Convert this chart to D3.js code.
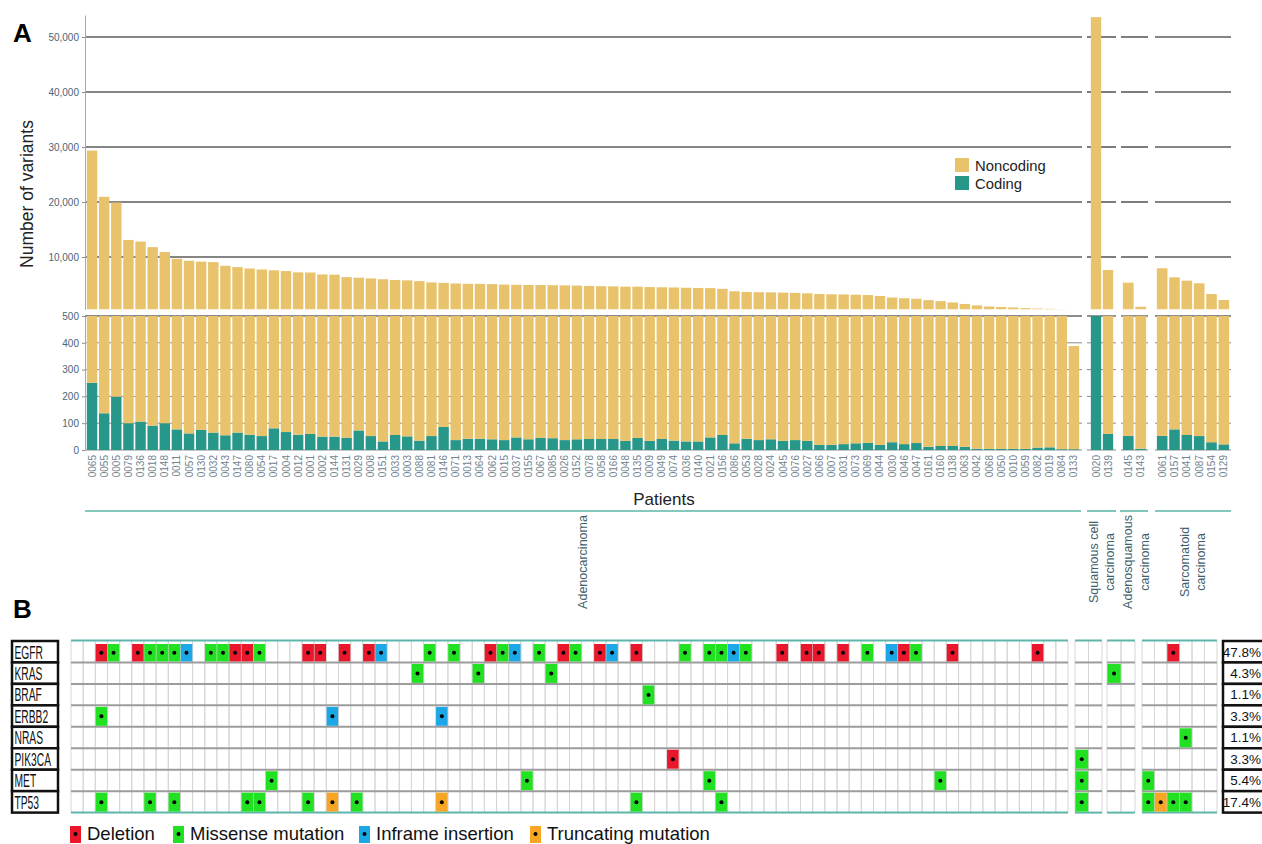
<!DOCTYPE html>
<html>
<head>
<meta charset="utf-8">
<script src="https://cdn.jsdelivr.net/npm/d3@7"></script>
<style>
  body { margin: 0; background: #fff; }
  svg { display: block; font-family: "Liberation Sans", Arial, sans-serif; }
</style>
</head>
<body>
<svg id="chart" width="1262" height="844"></svg>
<script>
// ---------- data: variant counts per patient ----------
const adenoPatients = ["0065","0055","0005","0079","0136","0018","0148","0011","0057","0130","0032","0043","0147","0080","0054","0017","0004","0012","0001","0002","0144","0131","0029","0008","0151","0033","0003","0088","0081","0146","0071","0013","0064","0062","0015","0037","0155","0067","0085","0026","0152","0078","0058","0166","0048","0135","0009","0049","0074","0036","0140","0021","0156","0086","0053","0028","0024","0045","0076","0027","0066","0007","0031","0073","0069","0044","0030","0046","0047","0161","0160","0138","0063","0042","0068","0050","0010","0059","0082","0019","0084","0133"];
const adenoNoncoding = [29100,20800,19700,13000,12700,11700,10800,9600,9250,9080,9000,8350,8100,7850,7680,7500,7380,7150,7120,6780,6740,6300,6170,6050,5930,5760,5700,5580,5330,5210,5150,5090,5080,5030,4950,4900,4880,4860,4830,4800,4760,4700,4650,4620,4580,4560,4500,4460,4420,4380,4340,4300,4150,3750,3600,3560,3530,3500,3440,3360,3250,3200,3170,3120,3050,2900,2600,2480,2380,2150,1950,1720,1450,1200,1000,900,820,700,620,560,520,385];
const adenoCoding = [251,137,199,100,106,91,100,77,62,75,65,55,65,57,52,81,67,57,60,50,50,46,73,52,32,56,51,35,52,86,37,42,42,40,37,47,40,45,44,37,40,41,41,41,34,45,34,41,35,32,32,47,56,25,42,37,40,34,37,34,19,19,22,25,27,19,29,22,26,12,15,15,12,5,4,4,4,4,9,10,3,3];

const squamousPatients = ["0020","0139"];
const squamousNoncoding = [53100,7580];
const squamousCoding = [510,60];

const adenosquamousPatients = ["0145","0143"];
const adenosquamousNoncoding = [5280,955];
const adenosquamousCoding = [53,5];

const sarcomatoidPatients = ["0061","0157","0041","0087","0154","0129"];
const sarcomatoidNoncoding = [7890,6220,5640,5170,3240,2160];
const sarcomatoidCoding = [53,77,56,52,29,21];

const upperTicks = [10000,20000,30000,40000,50000];
const lowerTicks = [0,100,200,300,400,500];

// ---------- data: driver mutations per gene ----------
const geneNames = ["EGFR","KRAS","BRAF","ERBB2","NRAS","PIK3CA","MET","TP53"];
const genePercents = ["47.8%","4.3%","1.1%","3.3%","1.1%","3.3%","5.4%","17.4%"];
const mutationCodes = ["D","M","I","T"];
const mutationLabels = ["Deletion","Missense mutation","Inframe insertion","Truncating mutation"];

const egfrCalls = [["0005","D"],["0079","M"],["0018","D"],["0148","M"],["0011","M"],["0057","M"],["0130","I"],["0043","M"],["0147","M"],["0080","D"],["0054","D"],["0017","M"],["0002","D"],["0144","D"],["0029","D"],["0151","D"],["0033","I"],["0146","M"],["0013","M"],["0015","D"],["0037","M"],["0155","I"],["0085","M"],["0152","D"],["0078","M"],["0166","D"],["0048","I"],["0009","D"],["0140","M"],["0156","M"],["0086","M"],["0053","I"],["0028","M"],["0076","D"],["0066","D"],["0007","D"],["0073","D"],["0044","M"],["0046","I"],["0047","D"],["0161","M"],["0063","D"],["0019","D"],["0041","D"]];
const krasCalls = [["0081","M"],["0062","M"],["0026","M"],["0145","M"]];
const brafCalls = [["0049","M"]];
const erbb2Calls = [["0005","M"],["0131","I"],["0071","I"]];
const nrasCalls = [["0087","M"]];
const pik3caCalls = [["0036","D"],["0020","M"]];
const metCalls = [["0004","M"],["0067","M"],["0156","M"],["0138","M"],["0020","M"],["0061","M"]];
const tp53Calls = [["0005","M"],["0148","M"],["0057","M"],["0054","M"],["0017","M"],["0002","M"],["0131","T"],["0008","M"],["0071","T"],["0009","M"],["0086","M"],["0020","M"],["0061","M"],["0157","T"],["0041","M"],["0087","M"]];

// ---------- styling ----------
const NONCODING = "#E8C36B";
const CODING = "#27978A";
const TEAL_LINE = "#5DB6A9";
const mutationColors = { D: "#E8172B", M: "#22E022", I: "#1CA8E6", T: "#F6A624" };

const svg = d3.select("#chart");

// Histology groups with their horizontal spans (bars, grid, oncoprint block, label columns)
const groups = [
  { patients: adenoPatients, noncoding: adenoNoncoding, coding: adenoCoding,
    bars: [86, 1080], grid: [85, 1082], line: [85, 1081], onco: [71, 1068],
    label: ["Adenocarcinoma"], labelX: [583] },
  { patients: squamousPatients, noncoding: squamousNoncoding, coding: squamousCoding,
    bars: [1090, 1114], grid: [1087, 1116], line: [1087, 1116], onco: [1075, 1102],
    label: ["Squamous cell", "carcinoma"], labelX: [1094, 1110] },
  { patients: adenosquamousPatients, noncoding: adenosquamousNoncoding, coding: adenosquamousCoding,
    bars: [1122, 1147], grid: [1121, 1148], line: [1120, 1148], onco: [1107, 1135],
    label: ["Adenosquamous", "carcinoma"], labelX: [1128, 1145] },
  { patients: sarcomatoidPatients, noncoding: sarcomatoidNoncoding, coding: sarcomatoidCoding,
    bars: [1156, 1230], grid: [1155, 1231], line: [1155, 1231], onco: [1142, 1217],
    label: ["Sarcomatoid", "carcinoma"], labelX: [1185, 1201] }
];

// ---------- panel A: broken-axis stacked bars ----------
const yUp = d3.scaleLinear().domain([500, 54000]).range([309.25, 15]);
const yLo = d3.scaleLinear().domain([0, 500]).range([450, 316]);

const gridG = svg.append("g");
const barG = svg.append("g");

groups.forEach(g => {
  // gridlines behind bars
  upperTicks.forEach(t => {
    gridG.append("line").attr("x1", g.grid[0]).attr("x2", g.grid[1])
      .attr("y1", yUp(t)).attr("y2", yUp(t))
      .attr("stroke", "#5c5c5c").attr("stroke-width", 1.6);
  });
  lowerTicks.forEach(t => {
    gridG.append("line").attr("x1", g.grid[0]).attr("x2", g.grid[1])
      .attr("y1", yLo(t)).attr("y2", yLo(t))
      .attr("stroke", t === 500 ? "#666" : "#8c8c8c").attr("stroke-width", t === 500 ? 1.4 : 1);
  });

  const x = d3.scaleBand().domain(g.patients).range(g.bars).paddingInner(0.14).paddingOuter(0.07);
  g.x = x;

  g.patients.forEach((p, i) => {
    const c = g.coding[i], n = g.noncoding[i];
    const segs = [[0, c, CODING], [c, c + n, NONCODING]];
    segs.forEach(([a, b, col]) => {
      // lower axis segment 0..500
      const lo = Math.max(a, 0), hi = Math.min(b, 500);
      if (hi > lo) {
        barG.append("rect").attr("x", x(p)).attr("width", x.bandwidth())
          .attr("y", yLo(hi)).attr("height", yLo(lo) - yLo(hi)).attr("fill", col);
      }
      // upper axis segment 500..max
      const ulo = Math.max(a, 500), uhi = b;
      if (uhi > ulo) {
        barG.append("rect").attr("x", x(p)).attr("width", x.bandwidth())
          .attr("y", yUp(uhi)).attr("height", yUp(ulo) - yUp(uhi)).attr("fill", col);
      }
    });

    // patient id under the bar
    svg.append("text")
      .attr("transform", `translate(${x(p) + x.bandwidth() / 2},455) rotate(-90)`)
      .attr("text-anchor", "end").attr("dy", "0.35em")
      .attr("font-size", 10).attr("fill", "#71848f")
      .text(p);
  });

  // histology bracket line and label
  svg.append("line").attr("x1", g.line[0]).attr("x2", g.line[1])
    .attr("y1", 511).attr("y2", 511).attr("stroke", TEAL_LINE).attr("stroke-width", 1.6);
  g.label.forEach((t, k) => {
    svg.append("text")
      .attr("transform", `translate(${g.labelX[k]},562) rotate(-90)`)
      .attr("text-anchor", "middle").attr("dy", "0.35em")
      .attr("font-size", 12.5).attr("fill", "#3f5f6d")
      .text(t);
  });
});

// y axes
function styleAxis(sel) {
  sel.select(".domain").attr("stroke", "#a9a9a9");
  sel.selectAll(".tick line").attr("stroke", "#8c8c8c");
  sel.selectAll(".tick text").attr("fill", "#4b6575").attr("font-size", 10)
    .attr("font-family", "Liberation Sans, Arial, sans-serif");
}
svg.append("g").attr("transform", "translate(85,0)")
  .call(d3.axisLeft(yUp).tickValues(upperTicks).tickFormat(d3.format(",")).tickSize(3).tickSizeOuter(0))
  .call(styleAxis);
svg.append("g").attr("transform", "translate(85,0)")
  .call(d3.axisLeft(yLo).tickValues(lowerTicks).tickFormat(d3.format("d")).tickSize(3).tickSizeOuter(0))
  .call(styleAxis);

svg.append("text").attr("transform", "translate(27,194) rotate(-90)")
  .attr("text-anchor", "middle").attr("dy", "0.35em")
  .attr("font-size", 17.5).attr("fill", "#222").text("Number of variants");

svg.append("text").attr("x", 664).attr("y", 505).attr("text-anchor", "middle")
  .attr("font-size", 17).attr("fill", "#222").text("Patients");

// legend for panel A
[["Noncoding", NONCODING], ["Coding", CODING]].forEach(([t, c], i) => {
  svg.append("rect").attr("x", 955).attr("y", 158 + i * 18).attr("width", 14).attr("height", 14).attr("fill", c);
  svg.append("text").attr("x", 975).attr("y", 171 + i * 18).attr("font-size", 14.8).attr("fill", "#222").text(t);
});

svg.append("text").attr("x", 13).attr("y", 42).attr("font-size", 26).attr("font-weight", "bold").text("A");
svg.append("text").attr("x", 13).attr("y", 618).attr("font-size", 26).attr("font-weight", "bold").text("B");

// ---------- panel B: oncoprint ----------
const rowTop = 641, rowH = 21.45;
const y = d3.scaleBand().domain(geneNames).range([rowTop, rowTop + rowH * geneNames.length]);
const callsByGene = [egfrCalls, krasCalls, brafCalls, erbb2Calls, nrasCalls, pik3caCalls, metCalls, tp53Calls];

const oncoG = svg.append("g");
groups.forEach(g => {
  const xc = d3.scaleBand().domain(g.patients).range(g.onco);
  g.xc = xc;
  // light column separators
  g.patients.forEach(p => {
    [xc(p), xc(p) + xc.bandwidth()].forEach(xx => {
      oncoG.append("line").attr("x1", xx).attr("x2", xx)
        .attr("y1", rowTop).attr("y2", rowTop + rowH * 8)
        .attr("stroke", "#d6d6d6").attr("stroke-width", 1);
    });
  });
  // row separators
  for (let k = 1; k < geneNames.length; k++) {
    oncoG.append("line").attr("x1", g.onco[0]).attr("x2", g.onco[1])
      .attr("y1", rowTop + k * rowH).attr("y2", rowTop + k * rowH)
      .attr("stroke", "#9c9c9c").attr("stroke-width", 2);
  }
  // top / bottom teal rules
  [rowTop - 0.5, rowTop + rowH * 8].forEach(yy => {
    oncoG.append("line").attr("x1", g.onco[0]).attr("x2", g.onco[1])
      .attr("y1", yy).attr("y2", yy).attr("stroke", TEAL_LINE).attr("stroke-width", 2);
  });
});

function blockOf(p) { return groups.find(g => g.patients.includes(p)); }

callsByGene.forEach((calls, gi) => {
  const gene = geneNames[gi];
  calls.forEach(([p, code]) => {
    const g = blockOf(p);
    const xc = g.xc;
    const cx = xc(p) + xc.bandwidth() / 2;
    const top = y(gene) + (gi === 0 ? 3 : 1.5);
    const bottom = y(gene) + y.bandwidth() - 1;
    oncoG.append("rect").attr("x", xc(p) + 0.3).attr("width", xc.bandwidth() - 0.6)
      .attr("y", top).attr("height", bottom - top).attr("fill", mutationColors[code]);
    oncoG.append("circle").attr("cx", cx).attr("cy", (top + bottom) / 2).attr("r", 2).attr("fill", "#000");
  });
});

// gene name boxes
geneNames.forEach((gname, i) => {
  svg.append("rect").attr("x", 12).attr("y", y(gname)).attr("width", 46).attr("height", y.bandwidth())
    .attr("fill", "#fff").attr("stroke", "#111").attr("stroke-width", 2.5);
  const t = svg.append("text").attr("x", 14.5).attr("y", y(gname) + 17.5)
    .attr("font-size", 19).attr("fill", "#111").text(gname);
  const w = t.node().getComputedTextLength();
  t.attr("textLength", Math.min(w * 0.54, 40)).attr("lengthAdjust", "spacingAndGlyphs");
});

// frequency boxes
genePercents.forEach((pct, i) => {
  const gname = geneNames[i];
  svg.append("rect").attr("x", 1223).attr("y", y(gname)).attr("width", 60).attr("height", y.bandwidth())
    .attr("fill", "#fff").attr("stroke", "#111").attr("stroke-width", 2.5);
  svg.append("text").attr("x", 1261).attr("y", y(gname) + 15.5)
    .attr("text-anchor", "end").attr("font-size", 13.5).attr("fill", "#111").text(pct);
});

// mutation legend
const legendX = [70, 173, 359, 530];
mutationCodes.forEach((code, i) => {
  const lx = legendX[i];
  svg.append("rect").attr("x", lx).attr("y", 826).attr("width", 11).attr("height", 17).attr("fill", mutationColors[code]);
  svg.append("circle").attr("cx", lx + 5.5).attr("cy", 834).attr("r", 2).attr("fill", "#000");
  svg.append("text").attr("x", lx + 17).attr("y", 840).attr("font-size", 18.5).attr("fill", "#111").text(mutationLabels[i]);
});
</script>
</body>
</html>
